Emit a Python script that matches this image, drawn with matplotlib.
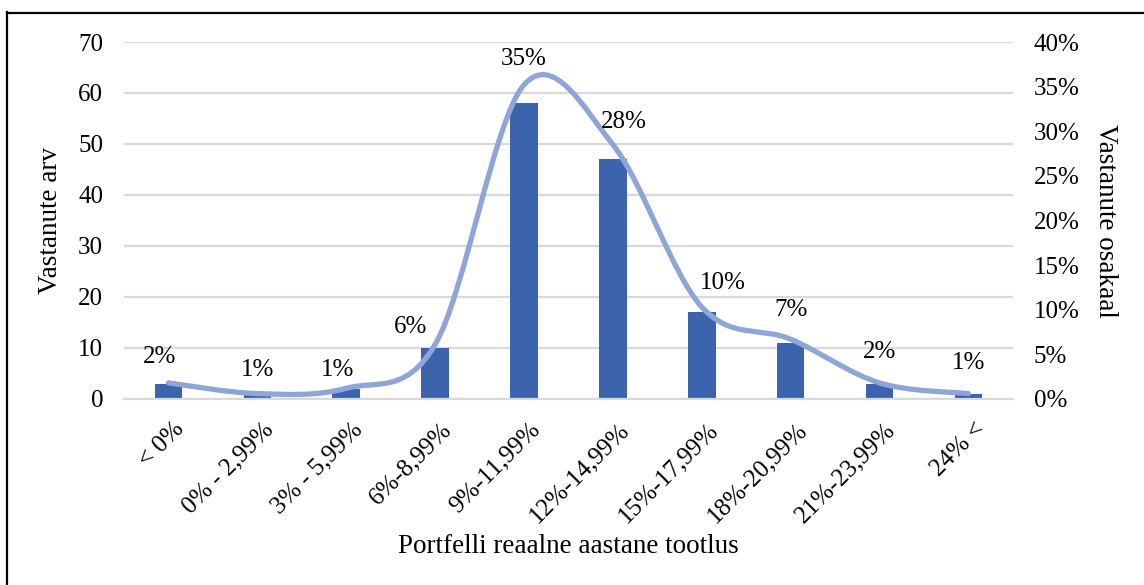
import matplotlib
matplotlib.use('Agg')
import matplotlib.pyplot as plt
import matplotlib.transforms as mtransforms
from matplotlib.path import Path
from matplotlib.patches import PathPatch
from matplotlib.lines import Line2D
import numpy as np

plt.rcParams['font.family'] = ['Liberation Serif', 'DejaVu Serif']

# andmed
kategooriad = ['< 0%', '0% - 2,99%', '3% - 5,99%', '6%-8,99%', '9%-11,99%',
               '12%-14,99%', '15%-17,99%', '18%-20,99%', '21%-23,99%', '24% <']
vastanute_arv = [3, 1, 2, 10, 58, 47, 17, 11, 3, 1]
osakaal = [1.8, 0.6, 1.2, 6.1, 35.2, 28.5, 10.3, 6.7, 1.8, 0.6]
osakaal_sildid = ['2%', '1%', '1%', '6%', '35%', '28%', '10%', '7%', '2%', '1%']

# sildi nihked (kategooria, protsendipunkt)
silt_dx = [-0.1, 0.0, -0.1, -0.28, 0.0, 0.12, 0.24, 0.0, 0.0, 0.0]
silt_dy = [2.9, 2.6, 2.0, 2.0, 2.9, 2.5, 2.7, 3.3, 3.5, 3.4]

bar_color = '#3C64AD'
line_color = '#8EA5D8'
grid_color = '#D9D9D9'
fs = 18
fs_lab = 19.5

fig = plt.figure(figsize=(11.44, 5.85), dpi=100)
ax = fig.add_axes([0.1084, 0.318, 0.777, 0.6102])
ax2 = ax.twinx()

x = np.arange(len(kategooriad))
ax.bar(x, vastanute_arv, width=0.31, color=bar_color, zorder=2)
ax.set_xlim(-0.5, len(kategooriad) - 0.5)
ax.set_ylim(0, 70)
ax.set_yticks(range(0, 71, 10))
ax.yaxis.grid(True, color=grid_color, linewidth=1.6, zorder=0)
ax.set_axisbelow(True)
for s in ax.spines.values():
    s.set_visible(False)
for s in ax2.spines.values():
    s.set_visible(False)
ax.spines['bottom'].set_visible(True)
ax.spines['bottom'].set_color(grid_color)
ax.spines['bottom'].set_linewidth(1.6)

ax.tick_params(axis='y', length=0, pad=15, labelsize=fs)
ax.tick_params(axis='x', length=0, pad=14, labelsize=fs)
ax.set_xticks(x)
ax.set_xticklabels(kategooriad, rotation=45, ha='right', va='top',
                   rotation_mode='anchor')
nihe = mtransforms.ScaledTranslation(5 / 100, 0, fig.dpi_scale_trans)
for t in ax.get_xticklabels():
    t.set_transform(t.get_transform() + nihe)

# protsendi telg
ax2.set_ylim(0, 40)
ax2.set_yticks(range(0, 41, 5))
ax2.set_yticklabels([f'{v}%' for v in range(0, 41, 5)])
ax2.tick_params(axis='y', length=0, pad=15, labelsize=fs)

# silutud joon (Catmull-Rom -> Bezier)
pts = np.column_stack([x, osakaal]).astype(float)
verts = [pts[0]]
codes = [Path.MOVETO]
n = len(pts)
for i in range(n - 1):
    p0 = pts[i - 1] if i > 0 else pts[i]
    p1 = pts[i]
    p2 = pts[i + 1]
    p3 = pts[i + 2] if i + 2 < n else pts[i + 1]
    c1 = p1 + (p2 - p0) / 6.0
    c2 = p2 - (p3 - p1) / 6.0
    verts += [c1, c2, p2]
    codes += [Path.CURVE4] * 3
patch = PathPatch(Path(verts, codes), facecolor='none', edgecolor=line_color,
                  linewidth=3.8, capstyle='round', zorder=3)
ax2.add_patch(patch)

for i, lab in enumerate(osakaal_sildid):
    ax2.text(x[i] + silt_dx[i], osakaal[i] + silt_dy[i], lab, ha='center',
             va='center', fontsize=fs, color='black')

ax.set_ylabel('Vastanute arv', fontsize=fs_lab, labelpad=11)
ax2.set_ylabel('Vastanute osakaal', fontsize=fs_lab, rotation=270,
               labelpad=28)
fig.text(0.497, 0.065, 'Portfelli reaalne aastane tootlus', ha='center',
         va='center', fontsize=fs_lab)

# raam
fig.add_artist(Line2D([0.0065, 0.0065], [0.0, 0.979], color='black',
                      linewidth=1.6, transform=fig.transFigure))
fig.add_artist(Line2D([0.0058, 1.0], [0.978, 0.978], color='black',
                      linewidth=1.6, transform=fig.transFigure))

fig.savefig('out.png', dpi=100)
